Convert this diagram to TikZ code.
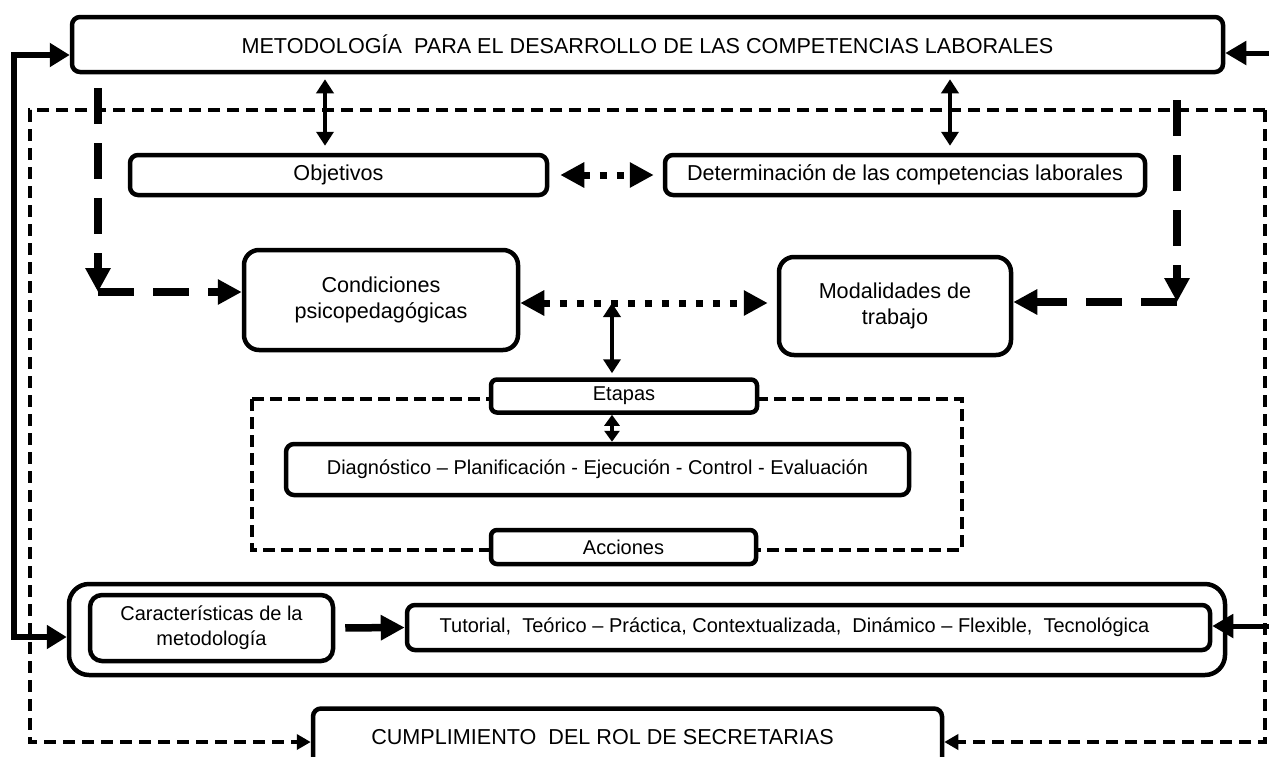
\documentclass[tikz,border=0pt]{standalone}
\usepackage{fontspec}
\setmainfont{Liberation Sans}
\usetikzlibrary{arrows.meta,calc,backgrounds}
\newcommand\fsA{\fontsize{20}{25}\selectfont}
\newcommand\fsB{\fontsize{21.6}{26}\selectfont}
\begin{document}
\begin{tikzpicture}[x=1pt,y=-1pt,
  box/.style={draw, line width=4.5pt, rounded corners=8pt, fill=white, inner sep=0pt, align=center, font=\fsA},
  bigtext/.style={font=\fsB},
  solidarr/.style={line width=6pt, -{Triangle[length=20pt,width=23pt]}},
  rightarr/.style={line width=5pt, -{Triangle[length=21pt,width=23pt]}},
  dblarr/.style={line width=3.5pt, {Triangle[length=14pt,width=17pt]}-{Triangle[length=14pt,width=17pt]}},
  dotarr/.style={line width=7pt, dash pattern=on 7pt off 10pt, {Triangle[length=24pt,width=24pt]}-{Triangle[length=24pt,width=24pt]}},
  tdash/.style={line width=7.5pt, dash pattern=on 36pt off 19pt, -{Triangle[length=24pt,width=24pt]}},
  frame/.style={line width=3.8pt, dash pattern=on 12pt off 7pt, -{Triangle[length=14pt,width=15pt]}},
  indash/.style={line width=4pt, dash pattern=on 12pt off 6pt}]
\useasboundingbox (0,0) rectangle (1269,756);
\clip (0,0) rectangle (1269,756);

% nodes
\node[box, bigtext, minimum width=1151pt, minimum height=55pt] (meta) at (647.5,44.5) {METODOLOGÍA\ \ PARA EL DESARROLLO DE LAS COMPETENCIAS LABORALES};
\node[box, bigtext, minimum width=417pt, minimum height=40pt] (obj) at (338.5,175) {Objetivos};
\node[box, bigtext, minimum width=480pt, minimum height=40pt] (det) at (905,175) {Determinación de las competencias laborales};
\node[box, bigtext, rounded corners=15pt, minimum width=274pt, minimum height=100pt] (cond) at (381,300) {Condiciones\\psicopedagógicas};
\node[box, bigtext, rounded corners=15pt, minimum width=232pt, minimum height=98pt] (moda) at (895,306) {Modalidades de\\trabajo};
\node[box, rounded corners=6pt, minimum width=266pt, minimum height=33pt] (etapas) at (624,396) {Etapas};
\node[box, minimum width=623pt, minimum height=51pt] (diag) at (597.5,469.5) {Diagnóstico – Planificación - Ejecución - Control - Evaluación};
\node[box, rounded corners=6pt, minimum width=265pt, minimum height=34pt] (acc) at (623.5,547) {Acciones};
\node[box, rounded corners=20pt, minimum width=1156pt, minimum height=91pt] (outer) at (647,629.5) {};
\node[box, rounded corners=12pt, minimum width=243pt, minimum height=66pt] (car) at (211.5,628) {Características de la\\metodología};
\node[box, minimum width=803pt, minimum height=45pt] (tut) at (808.5,627.5) {Tutorial,\ \ Teórico – Práctica, Contextualizada,\ \ Dinámico – Flexible,\ \ Tecnológica\hspace*{28pt}};
\node[box, bigtext, minimum width=629pt, minimum height=58pt] (cump) at (627.5,737.5) {CUMPLIMIENTO\ \ DEL ROL DE SECRETARIAS\hspace*{50pt}};

% coordinates
\coordinate (ftl) at (30,110);
\coordinate (ftr) at (1265,110);
\coordinate (fbl) at (30,742);
\coordinate (fbr) at (1265,742);
\coordinate (c1) at (325,0);
\coordinate (c2) at (950,0);
\coordinate (l1) at (98,88);
\coordinate (l2) at (98,292);
\coordinate (r1) at (1177,100);
\coordinate (r2) at (1177,302);
\coordinate (dm) at (612,303);
\coordinate (lt) at (14,55);
\coordinate (lb) at (14,637);
\coordinate (rt) at (1275,53);
\coordinate (rb) at (1275,626);

\begin{pgfonlayer}{background}
  \draw[frame] (ftr) -- (ftl) -- (fbl) -- (cump.west |- fbl);
  \draw[frame] (ftr) -- (fbr) -- (cump.east |- fbr);
  \draw[indash] (252,399) rectangle (962,550);
\end{pgfonlayer}

% connectors
\draw[dblarr, shorten <=5pt, shorten >=7pt] (meta.south -| c1) -- (obj.north -| c1);
\draw[dblarr, shorten <=5pt, shorten >=7pt] (meta.south -| c2) -- (det.north -| c2);
\draw[dotarr, shorten <=11pt, shorten >=9pt] (obj.east) -- (det.west);
\draw[tdash] (l1) -- (l2);
\draw[tdash] (l2) -- (cond.west |- l2);
\draw[tdash] (r1) -- (r2);
\draw[tdash] (r2) -- (moda.east |- r2);
\draw[dotarr, shorten >=9pt] (cond.east |- dm) -- (moda.west |- dm);
\draw[dblarr, shorten >=4pt] (dm) -- (etapas.north -| dm);
\draw[dblarr, {Triangle[length=11pt,width=15pt]}-{Triangle[length=11pt,width=15pt]}] (etapas.south -| dm) -- (diag.north -| dm);
\draw[tdash, shorten <=10pt] (car.east) -- (tut.west);
\draw[solidarr, {Triangle[length=20pt,width=23pt]}-{Triangle[length=20pt,width=23pt]}] (meta.west |- lt) -- (lt) -- (lb) -- (outer.west |- lb);
\draw[rightarr] (rt) -- (meta.east |- rt);
\draw[rightarr] (rb) -- (tut.east |- rb);
\end{tikzpicture}
\end{document}
